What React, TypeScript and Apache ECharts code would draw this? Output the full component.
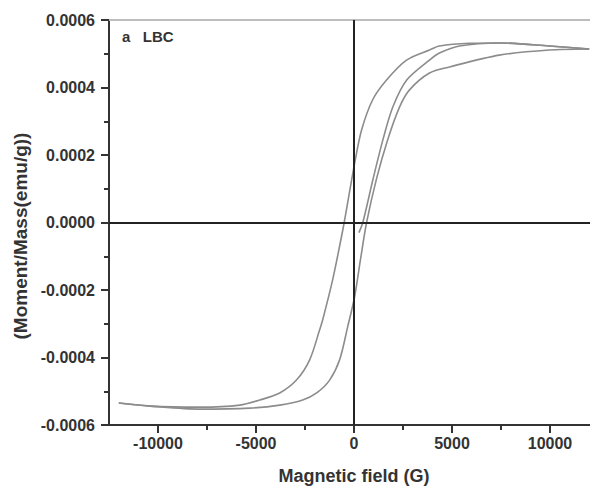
import React, { useEffect, useRef } from "react";
import * as echarts from "echarts";

// Ascending branch (field in G, moment in emu/g)
const ascH = [-12000, -10386, -7840, -5317, -3789, -2618, -1905, -1243, -733, -326, 31, 330, 642, 1151, 1711, 2322, 2832, 3850, 4869, 7416, 9962, 12000];
const ascM = [-0.000535, -0.000544, -0.000553, -0.00055, -0.000541, -0.000526, -0.000505, -0.000467, -0.000407, -0.00031, -0.00022, -0.00011, 0, 0.00013, 0.000244, 0.000342, 0.000393, 0.000443, 0.000461, 0.000496, 0.000511, 0.000514];

// Descending branch
const descH = [12000, 9962, 7416, 5888, 4360, 3850, 2679, 1660, 947, 387, 31, -500, -700, -1090, -1600, -1752, -2262, -2924, -3789, -4808, -5827, -7840, -10386, -12000];
const descM = [0.000514, 0.000523, 0.000532, 0.000531, 0.000523, 0.000511, 0.000481, 0.000422, 0.000363, 0.000274, 0.000175, 0, -0.00006, -0.00017, -0.000289, -0.000318, -0.000407, -0.000466, -0.000505, -0.000526, -0.000541, -0.000547, -0.000544, -0.000535];

// Initial magnetisation curve
const initH = [250, 450, 960, 1470, 1980, 2690, 3850, 4360, 5380, 7416, 9962, 12000];
const initM = [-0.00003, 0, 0.000126, 0.000244, 0.000342, 0.000422, 0.000481, 0.000502, 0.000523, 0.000532, 0.000523, 0.000514];

const xMajorTicks = [-10000, -5000, 0, 5000, 10000];
const xMinorTicks = [-7500, -2500, 2500, 7500];

const zip = (a: number[], b: number[]) => a.map((v, i) => [v, b[i]]);

export default function App() {
  const ref = useRef<HTMLDivElement>(null);
  useEffect(() => {
    if (!ref.current) return;
    const chart = echarts.init(ref.current, null, { renderer: "svg" });
    const font = "'Liberation Sans', Arial, sans-serif";
    const lineStyle = { color: "#8c8c8c", width: 1.6 };
    const tickFont = { fontSize: 16, fontWeight: "bold", color: "#333", fontFamily: font };
    const nameFont = { fontSize: 18, fontWeight: "bold", color: "#333", fontFamily: font };
    chart.setOption({
      animation: false,
      backgroundColor: "#ffffff",
      title: {
        text: "a   LBC",
        left: 117,
        top: 24,
        textStyle: { fontSize: 15, fontWeight: "bold", color: "#333", fontFamily: font },
      },
      graphic: [
        {
          type: "text",
          x: 20,
          y: 236,
          rotation: Math.PI / 2,
          style: {
            text: "(Moment/Mass(emu/g))",
            fontSize: 19,
            fontWeight: "bold",
            fontFamily: font,
            fill: "#333",
            align: "center",
            verticalAlign: "middle",
          },
        },
      ],
      grid: { left: 109, width: 490, top: 20, bottom: 63, containLabel: false, outerBoundsMode: "none" },
      xAxis: [
        {
          type: "value",
          min: -12500,
          max: 12500,
          position: "bottom",
          name: "Magnetic field (G)",
          nameLocation: "middle",
          nameGap: 42,
          nameTextStyle: nameFont,
          axisLine: { show: true, onZero: false, lineStyle: { color: "#333", width: 2 } },
          axisTick: { show: true, customValues: xMajorTicks, length: 8, inside: false, lineStyle: { color: "#333", width: 2 } },
          axisLabel: {
            customValues: xMajorTicks,
            margin: 10,
            ...tickFont,
            formatter: (v: number) => String(v),
          },
          splitLine: { show: false },
        },
        {
          type: "value",
          min: -12500,
          max: 12500,
          position: "bottom",
          gridIndex: 0,
          axisLine: { show: false, onZero: false },
          axisTick: { show: true, customValues: xMinorTicks, length: 5, lineStyle: { color: "#333", width: 2 } },
          axisLabel: { show: false },
          splitLine: { show: false },
        },
        {
          type: "value",
          min: -12500,
          max: 12500,
          position: "top",
          gridIndex: 0,
          axisLine: { show: true, onZero: false, lineStyle: { color: "#bdbdbd", width: 2 } },
          axisTick: { show: false },
          axisLabel: { show: false },
          splitLine: { show: false },
        },
      ],
      yAxis: {
        type: "value",
        min: -0.0006,
        max: 0.0006,
        interval: 0.0002,
        axisLine: { show: true, onZero: false, lineStyle: { color: "#333", width: 2 } },
        axisTick: { show: true, length: 8, lineStyle: { color: "#333", width: 2 } },
        minorTick: { show: true, splitNumber: 2, length: 5, lineStyle: { color: "#333", width: 2 } },
        axisLabel: {
          margin: 14,
          ...tickFont,
          formatter: (v: number) => v.toFixed(4),
        },
        splitLine: { show: false },
      },
      series: [
        {
          type: "line",
          data: zip(descH, descM),
          showSymbol: false,
          smooth: 0.3,
          lineStyle,
          z: 3,
          markLine: {
            silent: true,
            symbol: "none",
            label: { show: false },
            lineStyle: { color: "#222", width: 2, type: "solid" },
            data: [{ xAxis: 0 }, { yAxis: 0 }],
          },
        },
        { type: "line", data: zip(ascH, ascM), showSymbol: false, smooth: 0.3, lineStyle, z: 3 },
        { type: "line", data: zip(initH, initM), showSymbol: false, smooth: 0.3, lineStyle, z: 3 },
      ],
    });
    return () => chart.dispose();
  }, []);
  return <div ref={ref} style={{ position: "fixed", left: 0, top: 0, width: 590, height: 488 }} />;
}
